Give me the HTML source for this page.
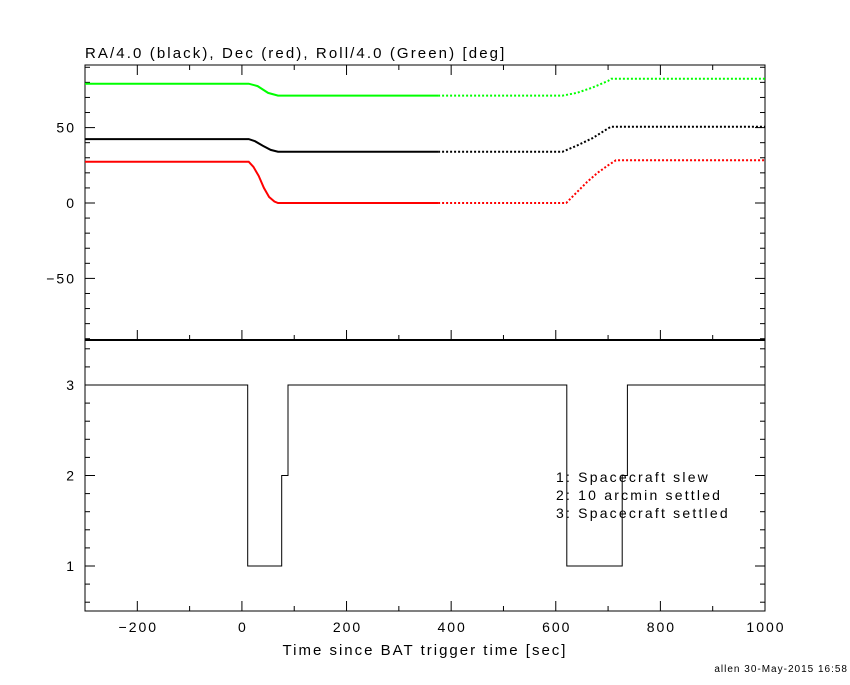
<!DOCTYPE html>
<html><head><meta charset="utf-8"><style>
body{margin:0;background:#fff;}
svg text{font-family:"Liberation Sans",sans-serif;letter-spacing:2px;}
</style></head><body>
<svg id="c" width="850" height="680" xmlns="http://www.w3.org/2000/svg">
<rect width="850" height="680" fill="#fff"/>
</svg>
<script>
const xTicks=[-200,0,200,400,600,800,1000];
const topTicks=[-50,0,50];
const botTicks=[1,2,3];
const raTimes=[-300,13,25,40,55,69,375];
const raVals=[42.4,42.4,41,38,35.2,34.0,34.0];
const raTimes2=[375,613,640,670,700,706,1000];
const raVals2=[34.0,34.0,38,43,49.5,50.6,50.6];
const decTimes=[-300,13,22,32,42,52,62,69,375];
const decVals=[27.4,27.4,24,18,10,4,1,0,0];
const decTimes2=[375,620,640,660,680,700,715,1000];
const decVals2=[0,0,7,14,20,25,28.3,28.3];
const rollTimes=[-300,13,30,50,69,375];
const rollVals=[79.1,79.1,77.5,73,71.2,71.2];
const rollTimes2=[375,613,640,670,700,706,1000];
const rollVals2=[71.2,71.2,73,76.5,81,82.4,82.4];
const modeTimes=[-300,11,11,76,76,88,88,621,621,727,727,737,737,1000];
const modeVals=[3,3,1,1,2,2,3,3,1,1,2,2,3,3];
const NS="http://www.w3.org/2000/svg";
const svg=document.getElementById('c');
const L=85,R=765,T=65,M=340,B=611;
const xs=t=>L+(t+300)*(R-L)/1300;
const yt=v=>203-1.508*v;
const yb=v=>385-90.5*(v-3);
function mk(tag,a,par){const e=document.createElementNS(NS,tag);for(const k in a)e.setAttribute(k,a[k]);(par||svg).appendChild(e);return e;}
function line(x1,y1,x2,y2,w){return mk('line',{x1,y1,x2,y2,stroke:'#000','stroke-width':w||1});}
let f=mk('rect',{x:L,y:T,width:R-L,height:B-T,fill:'none',stroke:'#000','stroke-width':1});


let d=line(L,M,R,M,2);


for(let t=-300;t<=1000;t+=100){const x=xs(t);const major=t%200===0;const h=major?10:5;
 line(x,B,x,B-h);line(x,M,x,M-h);line(x,T,x,T+h);}
xTicks.forEach(t=>{const e=mk('text',{x:xs(t)+1,y:632,'text-anchor':'middle','font-size':14});e.textContent=(t<0?'\u2212'+(-t):t);
 
 });
for(let v=-90;v<=90;v+=10){const y=yt(v);const h=v%50===0?10:5;line(L,y,L+h,y);line(R,y,R-h,y);}
topTicks.forEach(v=>{const e=mk('text',{x:76,y:yt(v)+5,'text-anchor':'end','font-size':14});e.textContent=(v<0?'\u2212'+(-v):v);
 
 });
for(let v=0.6;v<=3.45;v+=0.2){const y=yb(v);line(L,y,L+5,y);line(R,y,R-5,y);}
botTicks.forEach(v=>{const y=yb(v);line(L,y,L+10,y);line(R,y,R-10,y);
 const e=mk('text',{x:76,y:y+5,'text-anchor':'end','font-size':14});e.textContent=v;
 
 });
function path(ts,vs,yf,col,name,dash,w){const p=ts.map((t,i)=>(i?'L':'M')+xs(t).toFixed(1)+','+yf(vs[i]).toFixed(1)).join('');
 const e=mk('path',{d:p,fill:'none',stroke:col,'stroke-width':w||2});if(dash)e.setAttribute('stroke-dasharray','2,2');
 
 }
path(rollTimes,rollVals,yt,'#00ff00','roll-line');
path(rollTimes2,rollVals2,yt,'#00ff00','roll-line-late',true);
path(raTimes,raVals,yt,'#000','ra-line');
path(raTimes2,raVals2,yt,'#000','ra-line-late',true);
path(decTimes,decVals,yt,'#ff0000','dec-line');
path(decTimes2,decVals2,yt,'#ff0000','dec-line-late',true);
path(modeTimes,modeVals,yb,'#000','mode-step',false,1);
function txt(x,y,s,name,size,anchor,ls){const e=mk('text',{x,y,'font-size':size||14,'text-anchor':anchor||'start'});e.textContent=s;
 if(ls!==undefined)e.style.letterSpacing=ls+'px';
 
 return e;}
txt(85,58,'RA/4.0 (black), Dec (red), Roll/4.0 (Green) [deg]','top-title',15,'start',2.1);
txt(425,655,'Time since BAT trigger time [sec]','x-axis-title',15,'middle',2);
txt(556,482,'1: Spacecraft slew','legend-entry-1',14,'start',2.2);
txt(556,500,'2: 10 arcmin settled','legend-entry-2',14,'start',2.2);
txt(556,518,'3: Spacecraft settled','legend-entry-3',14,'start',2.2);
txt(848,672,'allen 30-May-2015 16:58','footer-stamp',10,'end',1);
</script>
</body></html>
